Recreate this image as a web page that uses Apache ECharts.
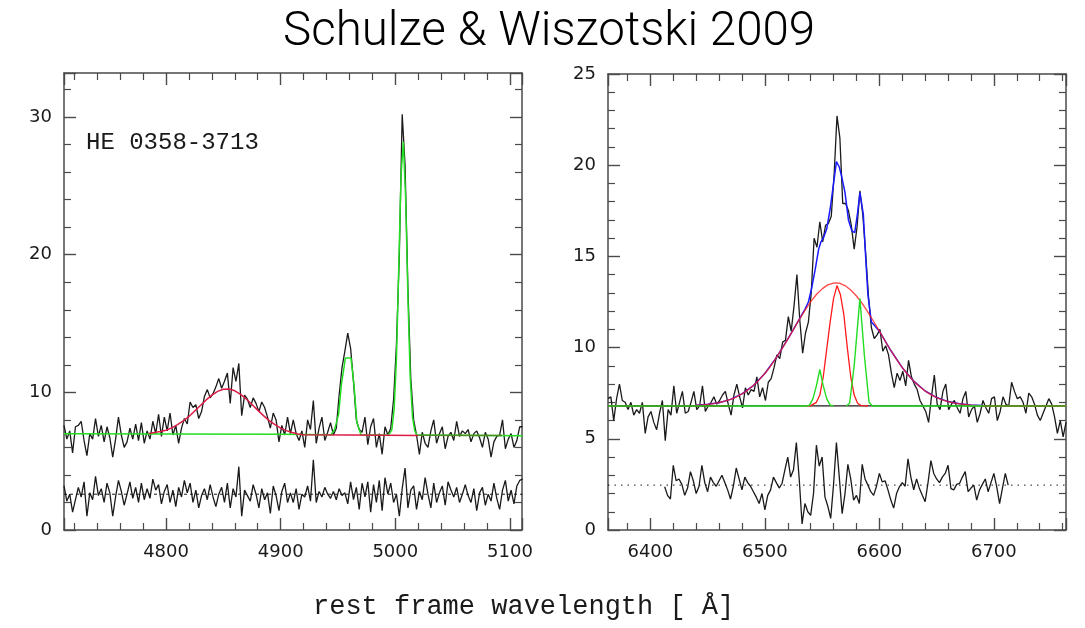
<!DOCTYPE html>
<html>
<head>
<meta charset="utf-8">
<script src="https://cdn.jsdelivr.net/npm/echarts@6/dist/echarts.min.js"></script>
<style>
  html, body { margin: 0; padding: 0; background: #fff; }
  #chart { width: 1085px; height: 628px; }
</style>
</head>
<body>
<div id="chart"></div>
<script>
// Wavelength grids (Angstrom): start of each sampled spectrum and the pixel step
const hbStart = 4711;
const haStart = 6363;
const haResidStart = 6412.5;
const step = 2.5;

// H-beta / [OIII] region: observed flux and fit residuals
const hbFlux = [
  7.6, 6.6, 7.2, 5.6, 7.5, 7.6, 7.9, 6.5, 5.4, 7.0,
  6.6, 8.1, 6.8, 7.6, 6.4, 7.5, 6.7, 5.3, 6.6, 8.2,
  6.9, 6.0, 6.4, 7.4, 6.6, 7.7, 6.5, 7.8, 6.3, 7.2,
  6.6, 7.9, 7.0, 8.4, 6.8, 8.2, 7.2, 8.5, 6.9, 7.6,
  6.3, 7.4, 8.1, 7.7, 9.3, 8.9, 9.1, 8.1, 8.6, 9.7,
  10.2, 9.6, 9.9, 10.4, 11.0, 10.3, 10.8, 11.4, 9.2, 11.8,
  10.8, 12.1, 8.3, 9.8, 9.5, 8.9, 9.6, 9.2, 8.6, 9.3,
  8.9, 8.2, 7.4, 8.5, 8.0, 6.4, 7.6, 6.9, 8.2, 7.0,
  8.0, 7.0, 6.5, 7.2, 6.0, 8.0, 7.3, 9.4, 6.3, 7.4,
  8.2, 6.5, 7.1, 7.8, 6.9, 7.4, 9.8, 11.8, 13.0, 14.3,
  13.2, 10.8, 8.0, 7.3, 7.1, 8.2, 6.2, 7.5, 8.1, 6.0,
  7.0, 5.5, 7.5, 6.9, 7.4, 9.5, 13.5, 20.0, 30.2, 26.5,
  17.5, 11.0, 8.0, 6.9, 5.5, 7.1, 6.3, 6.0, 7.2, 8.0,
  6.3, 7.0, 7.5, 5.9, 6.8, 7.1, 6.5, 7.9, 6.8, 7.2,
  7.0, 7.3, 6.4, 7.0, 7.2, 6.7, 6.0, 7.1, 6.6, 5.3,
  6.4, 6.8, 6.9, 8.0, 5.9, 6.6, 7.0, 6.0, 6.5, 7.5, 7.5
];
const hbResid = [
  3.2, 2.1, 2.6, 1.3, 2.2, 3.1, 2.4, 3.5, 1.0, 2.7,
  2.2, 3.9, 2.5, 3.0, 2.0, 3.4, 2.7, 1.0, 2.4, 3.6,
  2.8, 1.8, 2.6, 3.5, 2.3, 3.1, 2.0, 3.4, 2.2, 3.0,
  2.3, 3.7, 2.9, 3.3, 1.9, 2.8, 3.3, 2.0, 2.9, 1.7,
  3.1, 2.4, 3.6, 2.7, 3.4, 2.0, 2.9, 1.6, 2.5, 3.0,
  2.2, 3.3, 2.4, 1.7, 2.6, 3.1, 2.0, 3.4, 1.6, 3.0,
  2.4, 4.6, 1.0, 2.9, 2.5, 2.1, 3.3, 2.6, 1.6, 3.0,
  2.2, 2.7, 1.2, 3.2, 2.5, 1.4, 2.8, 3.4, 2.0, 2.7,
  2.0, 3.0, 1.5, 2.6, 2.4, 3.2, 2.1, 5.1, 2.0, 2.8,
  2.4, 3.1, 2.6, 2.3, 2.8, 2.2, 3.0, 2.5, 2.7, 1.9,
  3.5, 2.2, 3.1, 1.5, 3.4, 2.4, 3.5, 1.3, 3.3, 2.0,
  3.6, 1.4, 3.8, 2.6, 3.4, 2.0, 2.6, 1.0, 3.0, 4.5,
  1.6, 2.9, 3.2, 1.5, 2.8, 2.2, 3.8, 2.6, 1.6, 3.4,
  2.0, 2.7, 3.2, 1.8, 3.5, 2.9, 2.4, 3.1, 2.0, 2.6,
  3.3, 2.5, 2.0, 3.0, 1.4, 2.7, 3.1, 1.8, 2.6, 2.1,
  3.4, 2.3, 1.5, 2.9, 3.6, 2.1, 2.9, 1.9, 3.2, 3.6, 3.7
];
const hbResidLevel = 2.6;

// H-beta fit: broad H-beta on the continuum, then flat continuum
const hbBroadFit = [
  [4785, 7.02], [4790, 7.08], [4795, 7.15], [4800, 7.25], [4805, 7.42], [4810, 7.65],
  [4815, 7.92], [4820, 8.25], [4825, 8.65], [4830, 9.05], [4835, 9.45], [4840, 9.8],
  [4845, 10.07], [4850, 10.22], [4855, 10.24], [4860, 10.11], [4865, 9.85], [4870, 9.52],
  [4875, 9.12], [4880, 8.71], [4885, 8.31], [4890, 7.95], [4895, 7.65], [4900, 7.4],
  [4905, 7.22], [4910, 7.08], [4915, 6.98], [4920, 6.92], [4960, 6.9], [5020, 6.87]
];
// Continuum plus [OIII] 4959/5007 fit
const hbNarrowFit = [
  [4711, 7.0], [4800, 6.98], [4900, 6.95], [4944, 6.92], [4947, 7.3], [4950.5, 8.4],
  [4953, 10.6], [4956.5, 12.5], [4961.3, 12.5], [4964, 10.5], [4966.5, 7.8], [4970, 6.92],
  [4993, 6.9], [4995, 7.0], [4997, 7.3], [4999, 8.8], [5001, 12.5], [5003, 19.1],
  [5005, 25.8], [5007, 28.2], [5009, 24.1], [5011, 16.9], [5013, 11.1], [5015, 8.2],
  [5017, 7.2], [5019, 6.9], [5111, 6.85]
];
const hbContTail = [[5020, 6.88], [5093, 6.86]];

// H-alpha region: observed flux and fit residuals
const haFlux = [
  7.2, 7.3, 6.0, 7.2, 8.0, 7.1, 7.0, 6.6, 7.0, 6.3,
  6.6, 6.4, 7.0, 5.3, 6.2, 6.5, 5.9, 5.5, 6.4, 7.1,
  4.9, 6.6, 6.3, 7.9, 6.4, 7.0, 7.6, 6.4, 6.5, 7.0,
  7.6, 6.6, 6.8, 7.9, 6.5, 6.8, 7.0, 7.3, 6.9, 7.1,
  7.4, 7.6, 6.9, 6.3, 7.4, 8.0, 7.3, 6.7, 7.8, 7.4,
  7.7, 7.6, 8.4, 7.3, 7.8, 7.1, 8.1, 8.3, 8.9, 9.6,
  9.4, 10.3, 10.4, 11.7, 10.9, 12.3, 14.0, 11.5, 9.7, 10.8,
  11.4, 13.0, 16.0, 15.5, 16.9, 15.8, 16.7, 16.8, 17.2, 19.5,
  22.7, 21.5, 17.9, 17.9, 17.5, 16.7, 15.4, 16.6, 18.6, 17.3,
  15.2, 12.8, 11.1, 10.5, 10.7, 11.0, 9.8, 10.1, 9.6, 8.6,
  7.8, 8.6, 8.2, 8.7, 7.9, 9.3, 8.4, 8.0, 7.7, 7.1,
  6.8, 6.5, 5.9, 7.3, 8.5, 6.9, 6.6, 7.6, 8.0, 6.6,
  6.9, 7.1, 6.7, 6.4, 7.2, 7.6, 6.2, 6.6, 6.8, 5.9,
  6.4, 7.1, 6.7, 6.4, 7.2, 7.3, 6.0, 6.5, 7.3, 6.9,
  6.8, 8.1, 7.6, 7.2, 7.3, 7.0, 6.4, 7.5, 7.3, 6.9,
  6.3, 6.0, 6.4, 6.8, 7.2, 6.9, 6.2, 5.3, 6.0, 5.1, 5.9
];
const haResid = [
  2.37, 1.9, 1.7, 3.55, 2.7, 2.8, 2.5, 1.9, 2.3, 3.2,
  2.7, 2.0, 2.4, 3.55, 2.6, 2.1, 2.9, 2.6, 2.4, 2.7,
  3.0, 2.6, 2.2, 1.7, 2.4, 3.4, 2.8, 2.2, 2.9, 2.6,
  2.4, 2.1, 1.8, 1.45, 2.0, 1.1, 1.9, 2.2, 2.9, 2.6,
  2.3, 2.55, 3.3, 4.0, 2.9, 3.3, 4.8, 2.8, 0.33, 1.45,
  1.0, 0.8, 2.0, 4.65, 3.5, 4.0, 1.8, 1.3, 0.64, 2.5,
  4.8, 2.9, 0.9, 2.0, 3.6, 2.8, 1.64, 1.9, 1.45, 3.6,
  2.8, 2.46, 2.1, 1.9, 2.4, 3.1, 2.64, 2.7, 2.2, 1.64,
  1.2, 2.0, 2.37, 2.6, 2.4, 3.9, 2.9, 2.2, 2.8, 2.27,
  1.9, 1.55, 2.6, 3.8, 3.1, 2.8, 2.6, 2.9, 3.1, 3.55,
  2.27, 2.2, 2.5, 2.55, 2.9, 3.2, 2.1, 2.3, 2.46, 1.64,
  2.2, 2.5, 2.8, 2.1, 2.6, 3.1, 2.37, 1.45, 2.3, 3.1, 2.46
];
const haResidLevel = 2.46;
const haContinuum = [[6363, 6.8], [6763, 6.8]];

// H-alpha fit components
const haTotalFit = [
  [6440, 6.84], [6450, 6.89], [6460, 6.98], [6470, 7.16], [6480, 7.46], [6490, 7.92],
  [6500, 8.58], [6510, 9.45], [6520, 10.46], [6530, 11.55], [6535, 12.1], [6538, 12.5],
  [6541, 13.3], [6544, 14.3], [6547, 15.4], [6549, 15.8], [6551, 16.0], [6554, 16.5],
  [6557, 17.6], [6560, 19.0], [6562.5, 20.2], [6565, 19.9], [6567, 19.4], [6570, 18.5],
  [6573, 17.0], [6576, 16.4], [6578.5, 16.3], [6581, 17.4], [6583, 18.5], [6586, 17.3],
  [6588, 15.0], [6590, 12.9], [6593, 11.4], [6596, 11.2], [6600, 10.9], [6610, 9.84],
  [6620, 8.9], [6630, 8.16], [6640, 7.62], [6650, 7.26], [6660, 7.04], [6670, 6.92],
  [6680, 6.85], [6690, 6.82]
];
const haBroadFit = [
  [6440, 6.84], [6445, 6.86], [6450, 6.89], [6455, 6.93], [6460, 6.98], [6465, 7.06],
  [6470, 7.16], [6475, 7.29], [6480, 7.46], [6485, 7.67], [6490, 7.92], [6495, 8.23],
  [6500, 8.58], [6505, 8.99], [6510, 9.45], [6515, 9.94], [6520, 10.46], [6525, 11.0],
  [6530, 11.53], [6535, 12.04], [6540, 12.51], [6545, 12.91], [6550, 13.22], [6555, 13.44],
  [6560, 13.54], [6562, 13.55], [6565, 13.53], [6570, 13.4], [6575, 13.16], [6580, 12.83],
  [6585, 12.42], [6590, 11.94], [6595, 11.43], [6600, 10.9], [6605, 10.36], [6610, 9.84],
  [6615, 9.35], [6620, 8.9], [6625, 8.51], [6630, 8.16], [6635, 7.87], [6640, 7.62],
  [6645, 7.42], [6650, 7.26], [6655, 7.14], [6660, 7.04], [6665, 6.97], [6670, 6.92],
  [6675, 6.88], [6680, 6.85], [6685, 6.83], [6690, 6.82]
];
const haNarrowFit = [
  [6535, 6.8], [6540, 6.82], [6545, 7.0], [6548, 7.4], [6551, 8.4], [6554, 9.9],
  [6557, 11.4], [6560, 12.7], [6563, 13.4], [6566, 12.9], [6569, 11.8], [6572, 10.0],
  [6575, 8.4], [6578, 7.4], [6581, 6.95], [6584, 6.82], [6590, 6.8]
];
const nii6548Fit = [
  [6363, 6.8], [6536, 6.8], [6539, 6.85], [6542, 7.2], [6545, 7.9], [6548, 8.8],
  [6551, 7.9], [6554, 7.2], [6557, 6.85], [6560, 6.8]
];
const nii6583Fit = [
  [6571, 6.8], [6574, 6.95], [6578, 9.0], [6583, 12.7], [6587, 9.5], [6591, 7.0],
  [6594, 6.8], [6763, 6.8]
];
const haContBlue = [[6363, 6.8], [6470, 6.8]];
const haContRed = [[6690, 6.8], [6763, 6.8]];

// Tick labels
const hbTicks = [4800, 4900, 5000, 5100];
const haTicks = [6400, 6500, 6600, 6700];

const sampled = (start, values) => values.map((v, i) => [start + i * step, v]);

const frameColor = '#4a4a4a';
const labelStyle = { fontFamily: 'DejaVu Sans', fontSize: 18, color: '#1a1a1a' };

function xAxes(gridIndex, min, max, ticks) {
  const base = {
    gridIndex, type: 'value', min, max, splitNumber: 4,
    axisLine: { show: true, onZero: false, lineStyle: { color: frameColor, width: 1.5 } },
    axisTick: { show: true, inside: true, length: 12, lineStyle: { color: frameColor, width: 1.4 } },
    minorTick: { show: true, splitNumber: 5, length: 7, lineStyle: { color: frameColor, width: 1.2 } },
    splitLine: { show: false }
  };
  return [
    Object.assign({}, base, {
      position: 'bottom',
      axisLabel: Object.assign({ margin: 13, formatter: v => (ticks.includes(v) ? String(v) : '') }, labelStyle)
    }),
    Object.assign({}, base, { position: 'top', axisLabel: { show: false } })
  ];
}
function yAxes(gridIndex, max, interval) {
  const base = {
    gridIndex, type: 'value', min: 0, max, interval,
    axisLine: { show: true, onZero: false, lineStyle: { color: frameColor, width: 1.5 } },
    axisTick: { show: true, inside: true, length: 12, lineStyle: { color: frameColor, width: 1.4 } },
    minorTick: { show: true, splitNumber: 5, length: 7, lineStyle: { color: frameColor, width: 1.2 } },
    splitLine: { show: false }
  };
  return [
    Object.assign({}, base, {
      position: 'left',
      axisLabel: Object.assign({ margin: 12, formatter: v => (v % interval === 0 ? String(v) : '') }, labelStyle)
    }),
    Object.assign({}, base, { position: 'right', axisLabel: { show: false } })
  ];
}

function line(data, color, width, axes, z, extra) {
  return Object.assign({
    type: 'line', data, xAxisIndex: axes[0], yAxisIndex: axes[1],
    showSymbol: false, symbol: 'none', silent: true, z,
    lineStyle: { color, width }
  }, extra || {});
}

const L = [0, 0], R = [2, 2];
const green = '#22dd22';

const option = {
  animation: false,
  backgroundColor: '#ffffff',
  grid: [
    { left: 64, top: 73, width: 458, height: 457 },
    { left: 608, top: 74, width: 458, height: 456 }
  ],
  xAxis: [...xAxes(0, 4711, 5110.5, hbTicks), ...xAxes(1, 6363, 6763, haTicks)],
  yAxis: [...yAxes(0, 33.2, 10), ...yAxes(1, 25, 5)],
  series: [
    // left panel
    line(sampled(hbStart, hbFlux), '#1a1a1a', 1.3, L, 2),
    line(sampled(hbStart, hbResid), '#1a1a1a', 1.3, L, 2),
    line([[4711, hbResidLevel], [5111, hbResidLevel]], '#1a1a1a', 1, L, 1,
      { lineStyle: { color: '#1a1a1a', width: 1, type: [3, 3] } }),
    line(hbNarrowFit, green, 1.5, L, 3),
    line(hbBroadFit, '#dc1a44', 1.5, L, 4),
    line(hbContTail, '#4f8a22', 1.6, L, 5),
    // right panel
    line(haContinuum, '#1a1a1a', 1.2, R, 1),
    line(sampled(haStart, haFlux), '#1a1a1a', 1.3, R, 2),
    line(sampled(haResidStart, haResid), '#1a1a1a', 1.3, R, 2),
    line([[6363, haResidLevel], [6763, haResidLevel]], '#1a1a1a', 1, R, 1,
      { lineStyle: { color: '#1a1a1a', width: 1, type: [1.5, 5] } }),
    line(haTotalFit, '#1a1aff', 1.5, R, 3),
    line(haBroadFit, '#ff1a1a', 1.3, R, 4, { lineStyle: { color: '#ff1a1a', width: 1.3, opacity: 0.8 } }),
    line(haNarrowFit, '#ff1a1a', 1.3, R, 4),
    line(nii6548Fit, green, 1.4, R, 5),
    line(nii6583Fit, green, 1.4, R, 5),
    line(haContBlue, '#3f9a22', 1.5, R, 6),
    line(haContRed, '#6b7d22', 1.5, R, 6)
  ],
  graphic: [
    {
      type: 'text', left: 283, top: 9,
      style: { text: 'Schulze & Wiszotski 2009', fontFamily: 'Roboto', fontWeight: 300, fontSize: 47.5, fill: '#000' }
    },
    {
      type: 'text', left: 86, top: 131,
      style: { text: 'HE 0358-3713', fontFamily: 'Liberation Mono', fontSize: 24, fill: '#1a1a1a' }
    },
    {
      type: 'text', left: 313, top: 593,
      style: { text: 'rest frame wavelength [ Å]', fontFamily: 'Liberation Mono', fontSize: 27, fill: '#1a1a1a' }
    }
  ]
};

const chart = echarts.init(document.getElementById('chart'), null, { renderer: 'canvas' });
chart.setOption(option);
</script>
</body>
</html>
